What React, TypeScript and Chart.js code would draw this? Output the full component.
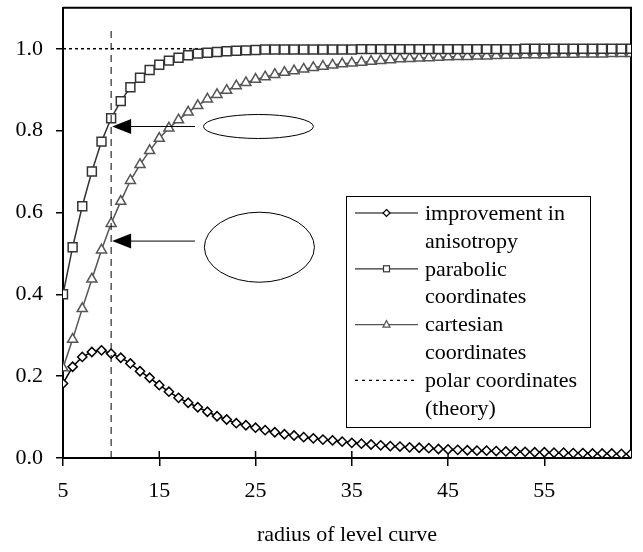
import React, { useEffect, useRef } from 'react';
import { Chart, registerables } from 'chart.js';

Chart.register(...registerables);

// ---- data ----
const radius = [
  5, 6, 7, 8, 9, 10, 11, 12, 13, 14, 15, 16, 17, 18, 19, 20, 21, 22, 23, 24,
  25, 26, 27, 28, 29, 30, 31, 32, 33, 34, 35, 36, 37, 38, 39, 40, 41, 42, 43, 44,
  45, 46, 47, 48, 49, 50, 51, 52, 53, 54, 55, 56, 57, 58, 59, 60, 61, 62, 63, 64,
];

const improvement = [
  0.182, 0.223, 0.247, 0.259, 0.263, 0.255, 0.245, 0.231, 0.212, 0.196,
  0.178, 0.162, 0.147, 0.135, 0.124, 0.113, 0.102, 0.094, 0.085, 0.080,
  0.074, 0.068, 0.063, 0.058, 0.055, 0.051, 0.048, 0.045, 0.043, 0.040,
  0.037, 0.035, 0.033, 0.031, 0.029, 0.028, 0.026, 0.025, 0.024, 0.022,
  0.021, 0.020, 0.019, 0.018, 0.018, 0.017, 0.016, 0.016, 0.015, 0.014,
  0.014, 0.013, 0.013, 0.012, 0.012, 0.011, 0.011, 0.011, 0.010, 0.010,
];

const parabolic = [
  0.400, 0.515, 0.615, 0.700, 0.773, 0.830, 0.872, 0.906, 0.929, 0.948,
  0.961, 0.971, 0.978, 0.984, 0.988, 0.990, 0.992, 0.994, 0.995, 0.996,
  0.997, 0.998, 0.998, 0.998, 0.998, 0.998, 0.998, 0.998, 0.998, 0.998,
  0.998, 0.999, 0.999, 0.999, 0.999, 0.999, 0.999, 0.999, 0.999, 0.999,
  0.999, 0.999, 0.999, 0.999, 0.999, 0.999, 0.999, 0.999, 1.000, 1.000,
  1.000, 1.000, 1.000, 1.000, 1.000, 1.000, 1.000, 1.000, 1.000, 1.000,
];

const cartesian = [
  0.220, 0.290, 0.365, 0.437, 0.508, 0.573, 0.627, 0.678, 0.717, 0.751,
  0.781, 0.806, 0.826, 0.845, 0.861, 0.877, 0.888, 0.898, 0.909, 0.917,
  0.925, 0.931, 0.937, 0.942, 0.946, 0.950, 0.954, 0.957, 0.960, 0.963,
  0.965, 0.967, 0.969, 0.971, 0.973, 0.975, 0.976, 0.977, 0.978, 0.979,
  0.980, 0.981, 0.981, 0.982, 0.982, 0.983, 0.984, 0.984, 0.985, 0.985,
  0.985, 0.986, 0.986, 0.986, 0.987, 0.987, 0.987, 0.988, 0.988, 0.988,
];

// polar coordinates (theory) line
const theoryValue = 1.0;
const theoryRange = [5, 64];

// vertical guide at radius 10
const guideRadius = 10;
const guideRange = [0, 1.05];

const xTicks = [5, 15, 25, 35, 45, 55];
const yTicks = [0, 0.2, 0.4, 0.6, 0.8, 1.0];

const legendLabels = [
  ['improvement in', 'anisotropy'],
  ['parabolic', 'coordinates'],
  ['cartesian', 'coordinates'],
  ['polar coordinates', '(theory)'],
];

const xTitle = 'radius of level curve';

// annotation arrows: tip/tail radius, value
const arrowTipRadius = [10, 10];
const arrowTailRadius = [18.7, 18.7];
const arrowValue = [0.81, 0.53];
// ellipses: centre radius/value
const ellipseRadius = [25.3, 25.4];
const ellipseValue = [0.81, 0.515];

const FONT = "'Liberation Serif', 'Times New Roman', serif";

function pts(ys: number[]) {
  return radius.map((r, i) => ({ x: r, y: ys[i] }));
}

const overlay = {
  id: 'overlay',
  beforeDatasetsDraw(chart: any) {
    const { ctx, chartArea: a, scales } = chart;
    const x = scales.x;
    ctx.save();
    ctx.strokeStyle = '#000';
    ctx.lineWidth = 2;
    ctx.beginPath();
    ctx.moveTo(a.left, a.top);
    ctx.lineTo(a.right, a.top);
    ctx.lineTo(a.right, a.bottom);
    ctx.stroke();
    ctx.lineWidth = 1.5;
    xTicks.forEach((v) => {
      const px = x.getPixelForValue(v);
      ctx.beginPath();
      ctx.moveTo(px, a.bottom);
      ctx.lineTo(px, a.bottom - 7);
      ctx.stroke();
    });
    ctx.restore();
  },
  afterDatasetsDraw(chart: any) {
    const { ctx, scales } = chart;
    const x = scales.x;
    const y = scales.y;
    ctx.save();
    // arrows
    ctx.strokeStyle = '#000';
    ctx.fillStyle = '#000';
    ctx.lineWidth = 1;
    arrowValue.forEach((v, i) => {
      const tipX = x.getPixelForValue(arrowTipRadius[i]) + 1;
      const tailX = x.getPixelForValue(arrowTailRadius[i]);
      const py = y.getPixelForValue(v);
      ctx.beginPath();
      ctx.moveTo(tailX, py);
      ctx.lineTo(tipX + 16, py);
      ctx.stroke();
      ctx.beginPath();
      ctx.moveTo(tipX, py);
      ctx.lineTo(tipX + 19, py - 7.5);
      ctx.lineTo(tipX + 19, py + 7.5);
      ctx.closePath();
      ctx.fill();
    });
    // ellipses
    const eR = [
      [55, 12],
      [55, 35],
    ];
    ellipseValue.forEach((v, i) => {
      const cx = x.getPixelForValue(ellipseRadius[i]);
      const cy = y.getPixelForValue(v);
      ctx.beginPath();
      ctx.ellipse(cx, cy, eR[i][0], eR[i][1], 0, 0, Math.PI * 2);
      ctx.stroke();
    });

    // legend
    const L = 346, T = 196, W = 244, H = 231;
    ctx.fillStyle = '#fff';
    ctx.fillRect(L, T, W, H);
    ctx.strokeStyle = '#000';
    ctx.lineWidth = 1;
    ctx.strokeRect(L + 0.5, T + 0.5, W, H);
    const lh = 27.9;
    const first = T + 17;
    const sx0 = L + 9, sx1 = L + 72, smid = (sx0 + sx1) / 2;
    const textX = L + 79;
    ctx.font = `22px ${FONT}`;
    ctx.textBaseline = 'middle';
    ctx.textAlign = 'left';
    const colors = ['#000', '#333', '#555', '#000'];
    legendLabels.forEach((lines, i) => {
      const ly = first + i * 2 * lh;
      ctx.strokeStyle = colors[i];
      ctx.lineWidth = 1.2;
      ctx.setLineDash(i === 3 ? [3, 4] : []);
      ctx.beginPath();
      ctx.moveTo(sx0, ly);
      ctx.lineTo(sx1, ly);
      ctx.stroke();
      ctx.setLineDash([]);
      ctx.fillStyle = '#fff';
      ctx.lineWidth = 1.2;
      if (i === 0) {
        ctx.beginPath();
        ctx.moveTo(smid, ly - 3.5);
        ctx.lineTo(smid + 3.5, ly);
        ctx.lineTo(smid, ly + 3.5);
        ctx.lineTo(smid - 3.5, ly);
        ctx.closePath();
        ctx.fill();
        ctx.stroke();
      } else if (i === 1) {
        ctx.fillRect(smid - 3, ly - 3, 6, 6);
        ctx.strokeRect(smid - 3, ly - 3, 6, 6);
      } else if (i === 2) {
        ctx.beginPath();
        ctx.moveTo(smid, ly - 4);
        ctx.lineTo(smid + 3.5, ly + 2.5);
        ctx.lineTo(smid - 3.5, ly + 2.5);
        ctx.closePath();
        ctx.fill();
        ctx.stroke();
      }
      ctx.fillStyle = '#000';
      lines.forEach((t, j) => {
        ctx.fillText(t, textX, ly + j * lh + 1);
      });
    });
    ctx.restore();
  },
};

export default function App() {
  const ref = useRef<HTMLCanvasElement>(null);
  useEffect(() => {
    const canvas = ref.current;
    if (!canvas) return;
    const chart = new Chart(canvas, {
      type: 'line',
      data: {
        datasets: [
          {
            label: 'guide',
            data: guideRange.map((v) => ({ x: guideRadius, y: v })),
            borderColor: '#000',
            borderWidth: 1,
            borderDash: [7, 5],
            pointRadius: 0,
          },
          {
            label: 'improvement in anisotropy',
            data: pts(improvement),
            borderColor: '#000',
            borderWidth: 1.5,
            pointStyle: 'rectRot',
            pointRadius: 4.6,
            pointBackgroundColor: '#fff',
            pointBorderColor: '#000',
            pointBorderWidth: 1.5,
          },
          {
            label: 'parabolic coordinates',
            data: pts(parabolic),
            borderColor: '#333',
            borderWidth: 1.5,
            pointStyle: 'rect',
            pointRadius: 6.3,
            pointBackgroundColor: '#fff',
            pointBorderColor: '#333',
            pointBorderWidth: 1.5,
          },
          {
            label: 'cartesian coordinates',
            data: pts(cartesian),
            borderColor: '#555',
            borderWidth: 1.5,
            pointStyle: 'triangle',
            pointRadius: 5.8,
            pointBackgroundColor: '#fff',
            pointBorderColor: '#555',
            pointBorderWidth: 1.5,
          },
          {
            label: 'polar coordinates (theory)',
            data: theoryRange.map((r) => ({ x: r, y: theoryValue })),
            borderColor: '#000',
            borderWidth: 1.5,
            borderDash: [3, 3],
            pointRadius: 0,
          },
        ],
      },
      options: {
        responsive: false,
        devicePixelRatio: 1,
        animation: false,
        layout: { padding: { left: 0, right: 12, top: 7, bottom: 0 } },
        plugins: {
          legend: { display: false },
          tooltip: { enabled: false },
        },
        scales: {
          x: {
            type: 'linear',
            min: 5,
            max: 64,
            afterBuildTicks: (s: any) => {
              s.ticks = xTicks.map((v) => ({ value: v }));
            },
            afterFit: (s: any) => {
              s.height = 94;
              s.paddingLeft = 0;
              s.paddingRight = 0;
              s.paddingTop = 0;
              s.paddingBottom = 0;
            },
            ticks: {
              color: '#000',
              font: { family: FONT, size: 22 },
              padding: 12,
              maxRotation: 0,
              autoSkip: false,
              callback: (v: any) => String(v),
            },
            grid: {
              display: true,
              drawOnChartArea: false,
              drawTicks: true,
              tickLength: 8,
              color: '#000',
              lineWidth: 1.5,
            },
            border: { display: true, color: '#000', width: 2 },
            title: {
              display: true,
              text: xTitle,
              color: '#000',
              font: { family: FONT, size: 22 },
              padding: { top: 0, bottom: 4 },
            },
          },
          y: {
            type: 'linear',
            min: 0,
            max: 1.1,
            afterBuildTicks: (s: any) => {
              s.ticks = yTicks.map((v) => ({ value: v }));
            },
            afterFit: (s: any) => {
              s.width = 63;
              s.paddingTop = 0;
              s.paddingBottom = 0;
              s.paddingLeft = 0;
              s.paddingRight = 0;
            },
            ticks: {
              color: '#000',
              font: { family: FONT, size: 22 },
              padding: 13,
              callback: (v: any) => Number(v).toFixed(1),
            },
            grid: {
              display: true,
              drawOnChartArea: false,
              drawTicks: true,
              tickLength: 7,
              color: '#000',
              lineWidth: 1.5,
            },
            border: { display: true, color: '#000', width: 2 },
          },
        },
      },
      plugins: [overlay],
    } as any);
    return () => chart.destroy();
  }, []);
  return (
    <div style={{ position: 'absolute', left: 0, top: 0, width: 643, height: 552, background: '#fff' }}>
      <canvas ref={ref} width={643} height={552} style={{ display: 'block', width: 643, height: 552 }} />
    </div>
  );
}
